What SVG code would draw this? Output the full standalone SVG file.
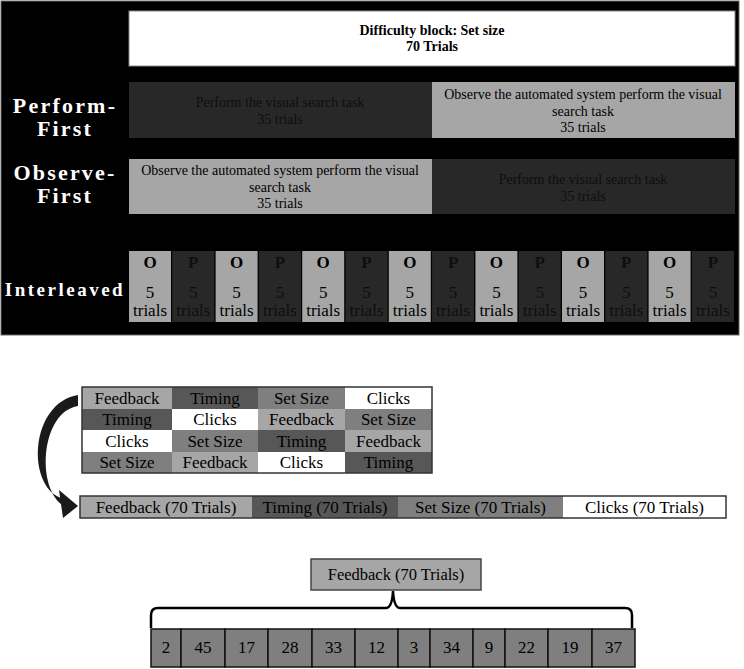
<svg xmlns="http://www.w3.org/2000/svg" width="744" height="669" viewBox="0 0 744 669">
<style>
.lbl{font-family:"Liberation Serif",serif;font-weight:bold;fill:#fff;text-anchor:middle}
.t{font-family:"Liberation Serif",serif;text-anchor:middle;fill:#000}
.dk{fill:#0e0e0e}
.b{font-weight:bold}
.light{fill:#a6a6a6}
.dark{fill:#282828}
.fb{fill:#a6a6a6}
.tm{fill:#575757}
.ss{fill:#7f7f7f}
.ck{fill:#ffffff}
.cell{fill:#7f7f7f;stroke:#111;stroke-width:1.5}
</style>
<rect x="0" y="0" width="744" height="669" fill="#fff"/>
<g id="panel">
<rect x="1" y="1" width="738" height="334" fill="#000" stroke="#666" stroke-width="1"/>
</g>
<g id="difficulty-block">
<rect x="129" y="11" width="606" height="55" fill="#fff" stroke="#888" stroke-width="1"/>
<text class="t b" x="432" y="35" font-size="14">Difficulty block: Set size</text>
<text class="t b" x="432" y="51" font-size="14">70 Trials</text>
</g>
<g id="perform-first">
<text class="lbl" x="65" y="113" font-size="22" letter-spacing="2.2">Perform-</text>
<text class="lbl" x="65" y="136" font-size="22" letter-spacing="2.2">First</text>
<rect class="dark" x="129" y="82" width="303" height="56"/>
<text class="t dk" x="280" y="107" font-size="14">Perform the visual search task</text>
<text class="t dk" x="280" y="124" font-size="14">35 trials</text>
<rect class="light" x="432" y="82" width="303" height="56"/>
<text class="t" x="583" y="99" font-size="14">Observe the automated system perform the visual</text>
<text class="t" x="583" y="116" font-size="14">search task</text>
<text class="t" x="583" y="132" font-size="14">35 trials</text>
</g>
<g id="observe-first">
<text class="lbl" x="65" y="180" font-size="22" letter-spacing="2.2">Observe-</text>
<text class="lbl" x="65" y="203" font-size="22" letter-spacing="2.2">First</text>
<rect class="light" x="129" y="159" width="303" height="55"/>
<text class="t" x="280" y="175" font-size="14">Observe the automated system perform the visual</text>
<text class="t" x="280" y="192" font-size="14">search task</text>
<text class="t" x="280" y="208" font-size="14">35 trials</text>
<rect class="dark" x="432" y="159" width="303" height="55"/>
<text class="t dk" x="583" y="184" font-size="14">Perform the visual search task</text>
<text class="t dk" x="583" y="201" font-size="14">35 trials</text>
</g>
<g id="interleaved">
<text class="lbl" x="65" y="296" font-size="19" letter-spacing="2.5">Interleaved</text>
<g font-size="17">
<rect class="light" x="129" y="251" width="42" height="71"/>
<text class="t b" x="150" y="268">O</text><text class="t" x="150" y="298">5</text><text class="t" x="150" y="316">trials</text>
<rect class="dark" x="172.3" y="251" width="42" height="71"/>
<text class="t dk b" x="193.3" y="268">P</text><text class="t dk" x="193.3" y="298">5</text><text class="t dk" x="193.3" y="316">trials</text>
<rect class="light" x="215.6" y="251" width="42" height="71"/>
<text class="t b" x="236.6" y="268">O</text><text class="t" x="236.6" y="298">5</text><text class="t" x="236.6" y="316">trials</text>
<rect class="dark" x="258.9" y="251" width="42" height="71"/>
<text class="t dk b" x="279.9" y="268">P</text><text class="t dk" x="279.9" y="298">5</text><text class="t dk" x="279.9" y="316">trials</text>
<rect class="light" x="302.2" y="251" width="42" height="71"/>
<text class="t b" x="323.2" y="268">O</text><text class="t" x="323.2" y="298">5</text><text class="t" x="323.2" y="316">trials</text>
<rect class="dark" x="345.5" y="251" width="42" height="71"/>
<text class="t dk b" x="366.5" y="268">P</text><text class="t dk" x="366.5" y="298">5</text><text class="t dk" x="366.5" y="316">trials</text>
<rect class="light" x="388.8" y="251" width="42" height="71"/>
<text class="t b" x="409.8" y="268">O</text><text class="t" x="409.8" y="298">5</text><text class="t" x="409.8" y="316">trials</text>
<rect class="dark" x="432.1" y="251" width="42" height="71"/>
<text class="t dk b" x="453.1" y="268">P</text><text class="t dk" x="453.1" y="298">5</text><text class="t dk" x="453.1" y="316">trials</text>
<rect class="light" x="475.4" y="251" width="42" height="71"/>
<text class="t b" x="496.4" y="268">O</text><text class="t" x="496.4" y="298">5</text><text class="t" x="496.4" y="316">trials</text>
<rect class="dark" x="518.7" y="251" width="42" height="71"/>
<text class="t dk b" x="539.7" y="268">P</text><text class="t dk" x="539.7" y="298">5</text><text class="t dk" x="539.7" y="316">trials</text>
<rect class="light" x="562" y="251" width="42" height="71"/>
<text class="t b" x="583" y="268">O</text><text class="t" x="583" y="298">5</text><text class="t" x="583" y="316">trials</text>
<rect class="dark" x="605.3" y="251" width="42" height="71"/>
<text class="t dk b" x="626.3" y="268">P</text><text class="t dk" x="626.3" y="298">5</text><text class="t dk" x="626.3" y="316">trials</text>
<rect class="light" x="648.6" y="251" width="42" height="71"/>
<text class="t b" x="669.6" y="268">O</text><text class="t" x="669.6" y="298">5</text><text class="t" x="669.6" y="316">trials</text>
<rect class="dark" x="691.9" y="251" width="42" height="71"/>
<text class="t dk b" x="712.9" y="268">P</text><text class="t dk" x="712.9" y="298">5</text><text class="t dk" x="712.9" y="316">trials</text>
</g>
</g>
<g id="order-grid" font-size="17">
<rect class="fb" x="82" y="387" width="90" height="22"/><text class="t" x="127" y="404">Feedback</text>
<rect class="tm" x="172" y="387" width="86" height="22"/><text class="t" x="215" y="404">Timing</text>
<rect class="ss" x="258" y="387" width="87" height="22"/><text class="t" x="301.5" y="404">Set Size</text>
<rect class="ck" x="345" y="387" width="87" height="22"/><text class="t" x="388.5" y="404">Clicks</text>
<rect class="tm" x="82" y="409" width="90" height="21"/><text class="t" x="127" y="425">Timing</text>
<rect class="ck" x="172" y="409" width="86" height="21"/><text class="t" x="215" y="425">Clicks</text>
<rect class="fb" x="258" y="409" width="87" height="21"/><text class="t" x="301.5" y="425">Feedback</text>
<rect class="ss" x="345" y="409" width="87" height="21"/><text class="t" x="388.5" y="425">Set Size</text>
<rect class="ck" x="82" y="430" width="90" height="22"/><text class="t" x="127" y="447">Clicks</text>
<rect class="ss" x="172" y="430" width="86" height="22"/><text class="t" x="215" y="447">Set Size</text>
<rect class="tm" x="258" y="430" width="87" height="22"/><text class="t" x="301.5" y="447">Timing</text>
<rect class="fb" x="345" y="430" width="87" height="22"/><text class="t" x="388.5" y="447">Feedback</text>
<rect class="ss" x="82" y="452" width="90" height="21"/><text class="t" x="127" y="468">Set Size</text>
<rect class="fb" x="172" y="452" width="86" height="21"/><text class="t" x="215" y="468">Feedback</text>
<rect class="ck" x="258" y="452" width="87" height="21"/><text class="t" x="301.5" y="468">Clicks</text>
<rect class="tm" x="345" y="452" width="87" height="21"/><text class="t" x="388.5" y="468">Timing</text>
<rect x="82" y="387" width="350" height="86" fill="none" stroke="#333" stroke-width="1.5"/>
</g>
<g id="block-sequence" font-size="17">
<rect class="fb" x="80" y="496" width="172" height="22"/><text class="t" x="166" y="513">Feedback (70 Trials)</text>
<rect class="tm" x="252" y="496" width="146" height="22"/><text class="t" x="325" y="513">Timing (70 Trials)</text>
<rect class="ss" x="398" y="496" width="165" height="22"/><text class="t" x="480.5" y="513">Set Size (70 Trials)</text>
<rect class="ck" x="563" y="496" width="163" height="22"/><text class="t" x="644.5" y="513">Clicks (70 Trials)</text>
<rect x="80" y="496" width="646" height="22" fill="none" stroke="#333" stroke-width="1.5"/>
</g>
<g id="feedback-block">
<rect x="311" y="559" width="170" height="31" fill="#a6a6a6" stroke="#444" stroke-width="1.5"/>
<text class="t" x="396" y="580" font-size="16.5">Feedback (70 Trials)</text>
</g>
<g id="trial-sequence" font-size="17">
<rect class="cell" x="151" y="629" width="30" height="38"/><text class="t" x="166" y="653">2</text>
<rect class="cell" x="181" y="629" width="44" height="38"/><text class="t" x="203" y="653">45</text>
<rect class="cell" x="225" y="629" width="43" height="38"/><text class="t" x="246.5" y="653">17</text>
<rect class="cell" x="268" y="629" width="44" height="38"/><text class="t" x="290" y="653">28</text>
<rect class="cell" x="312" y="629" width="43" height="38"/><text class="t" x="333.5" y="653">33</text>
<rect class="cell" x="355" y="629" width="43" height="38"/><text class="t" x="376.5" y="653">12</text>
<rect class="cell" x="398" y="629" width="32" height="38"/><text class="t" x="414" y="653">3</text>
<rect class="cell" x="430" y="629" width="43" height="38"/><text class="t" x="451.5" y="653">34</text>
<rect class="cell" x="473" y="629" width="32" height="38"/><text class="t" x="489" y="653">9</text>
<rect class="cell" x="505" y="629" width="43" height="38"/><text class="t" x="526.5" y="653">22</text>
<rect class="cell" x="548" y="629" width="44" height="38"/><text class="t" x="570" y="653">19</text>
<rect class="cell" x="592" y="629" width="43" height="38"/><text class="t" x="613.5" y="653">37</text>
</g>
<g id="connectors">
<path d="M 78 395 C 30 403, 26 485, 61 498 L 64 506 C 36 490, 40 412, 78 406 Z" fill="#1a1a1a"/>
<polygon points="59,490 78,506 63,518" fill="#1a1a1a"/>
<path d="M 151 628 L 151 615 Q 151 608 158 608 L 386 608 Q 392 608 393 591 Q 394 608 400 608 L 625 608 Q 632 608 632 615 L 632 628" fill="none" stroke="#000" stroke-width="2.5"/>
</g>
</svg>
